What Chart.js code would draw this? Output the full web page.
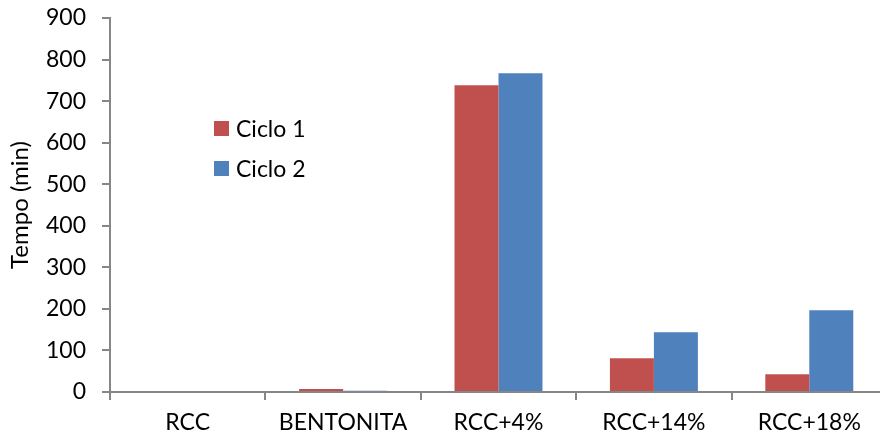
<!DOCTYPE html>
<html>
<head>
<meta charset="utf-8">
<script src="https://cdn.jsdelivr.net/npm/chart.js@4/dist/chart.umd.min.js"></script>
<style>
  html, body { margin: 0; padding: 0; background: #fff; overflow: hidden; }
  /* the plot runs a little past the right edge of the window */
  #wrap { width: 887px; height: 443px; position: relative; }
</style>
</head>
<body>
<div id="wrap"><canvas id="c"></canvas></div>
<script>
const categories = ['RCC', 'BENTONITA', 'RCC+4%', 'RCC+14%', 'RCC+18%'];
const ciclo1 = [0, 7, 738, 81, 43];
const ciclo2 = [0, 3, 767, 144, 197];
const yTicks = [0, 100, 200, 300, 400, 500, 600, 700, 800, 900];

const FONT = 'Lato, "Open Sans", sans-serif';
const AXIS = '#868686';

// Legend drawn inside the plot, to the left of the tall bars
const innerLegend = {
  id: 'innerLegend',
  afterDraw(chart) {
    const ctx = chart.ctx;
    const items = chart.data.datasets.map(d => ({ label: d.label, color: d.backgroundColor }));
    const x = 214, y0 = 121, gap = 40, box = 15;
    ctx.save();
    ctx.font = '23px ' + FONT;
    ctx.textBaseline = 'middle';
    ctx.textAlign = 'left';
    items.forEach((it, i) => {
      const y = y0 + i * gap;
      ctx.fillStyle = it.color;
      ctx.fillRect(x, y, box, box);
      ctx.fillStyle = '#000';
      ctx.fillText(it.label, x + box + 7, y + box / 2 + 1);
    });
    ctx.restore();
  }
};

new Chart(document.getElementById('c'), {
  type: 'bar',
  data: {
    labels: categories,
    datasets: [
      { label: 'Ciclo 1', data: ciclo1, backgroundColor: '#C0504D' },
      { label: 'Ciclo 2', data: ciclo2, backgroundColor: '#4F81BD' }
    ]
  },
  options: {
    responsive: true,
    maintainAspectRatio: false,
    animation: false,
    layout: { padding: { top: 18, right: 0, left: 0, bottom: 0 } },
    datasets: { bar: { categoryPercentage: 0.566, barPercentage: 1.0 } },
    plugins: { legend: { display: false }, tooltip: { enabled: false } },
    scales: {
      x: {
        grid: { display: true, drawOnChartArea: false, drawTicks: true, tickLength: 8, color: AXIS, lineWidth: 2 },
        border: { display: true, color: AXIS, width: 2 },
        ticks: { color: '#000', font: { family: FONT, size: 23 }, padding: 9, maxRotation: 0 },
        afterFit(scale) {
          scale.height = 51;
          scale.paddingLeft = 0;
          scale.paddingRight = 0;
        }
      },
      y: {
        min: 0, max: 900,
        afterBuildTicks(scale) { scale.ticks = yTicks.map(v => ({ value: v })); },
        grid: { display: true, drawOnChartArea: false, drawTicks: true, tickLength: 8, color: AXIS, lineWidth: 2 },
        border: { display: true, color: AXIS, width: 2 },
        ticks: { color: '#000', font: { family: FONT, size: 23 }, padding: 16 },
        title: { display: true, text: 'Tempo (min)', color: '#000', font: { family: FONT, size: 24 }, padding: { top: 6, bottom: 0 } },
        afterFit(scale) {
          scale.width = 110;
          scale.paddingTop = 0;
          scale.paddingBottom = 0;
        }
      }
    }
  },
  plugins: [innerLegend]
});
</script>
</body>
</html>
